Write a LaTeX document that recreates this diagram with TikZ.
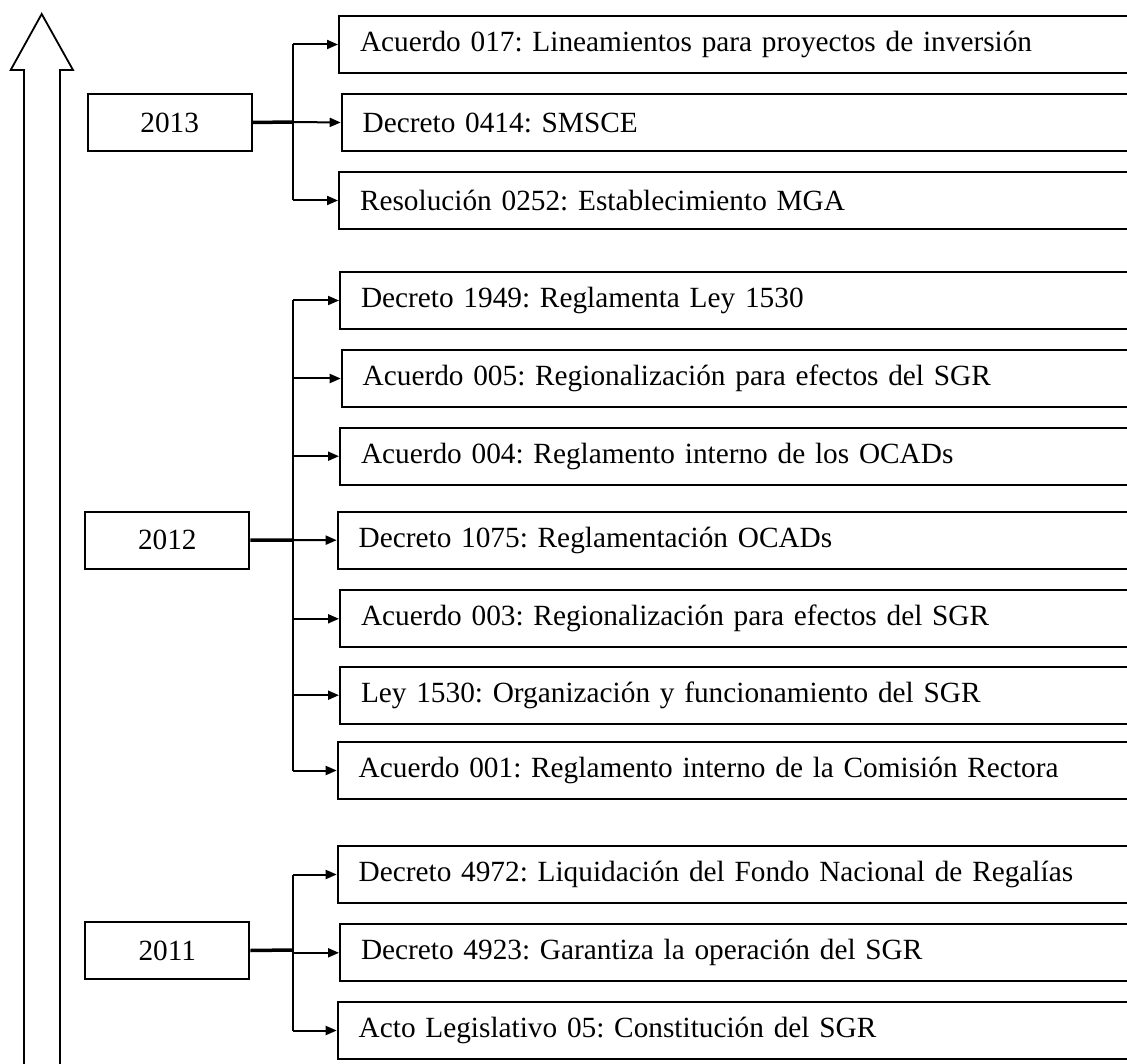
\documentclass[tikz,border=0pt]{standalone}
\usepackage{fontspec}
\setmainfont{Liberation Serif}
\usetikzlibrary{arrows.meta}
\frenchspacing
\begin{document}
\begin{tikzpicture}[x=1pt,y=-1pt,
  txt/.style={font=\fontsize{29.3}{34}\selectfont},
  yearbox/.style={txt, draw, line width=2pt, anchor=north west, minimum width=164pt, minimum height=57pt, inner sep=0pt},
  lawbox/.style={txt, draw, line width=2pt, anchor=north west, text width=800pt, minimum height=57pt, inner xsep=21pt, inner ysep=0pt, align=left},
  stem/.style={line width=3.5pt},
  trunk/.style={line width=2.2pt},
  arr/.style={line width=2pt, -{Triangle[length=11pt,width=9pt]}},
  bigarrow/.style={line width=1.8pt, line join=miter}]
\clip (0,0) rectangle (1127,1064);
% big timeline arrow
\draw[bigarrow] (24,1075) -- (24,70) -- (10.7,70) -- (41.7,14) -- (73,70) -- (60,70) -- (60,1075);

% ---- 2013 ----
\node[yearbox] (y13) at (86.7,93) {2013};
\node[lawbox] (a017) at (338,15) {Acuerdo 017: Lineamientos para proyectos de inversión};
\node[lawbox] (d0414) at (340.7,93) {Decreto 0414: SMSCE};
\node[lawbox] (r0252) at (338,171) {Resolución 0252: Establecimiento MGA};
\coordinate (j13) at (293,122);
\draw[stem] (y13.east) -- (j13);
\draw[trunk] (j13 |- a017.west) -- (j13 |- r0252.west);
\draw[arr] (j13 |- a017.west) -- (a017.west);
\draw[arr] (j13) -- (d0414.west);
\draw[arr] (j13 |- r0252.west) -- (r0252.west);

% ---- 2012 ----
\node[yearbox] (y12) at (84.3,510.7) {2012};
\node[lawbox] (d1949) at (339,271) {Decreto 1949: Reglamenta Ley 1530};
\node[lawbox] (a005) at (340.7,349) {Acuerdo 005: Regionalización para efectos del SGR};
\node[lawbox] (a004) at (339,426.7) {Acuerdo 004: Reglamento interno de los OCADs};
\node[lawbox] (d1075) at (336.7,510.7) {Decreto 1075: Reglamentación OCADs};
\node[lawbox] (a003) at (339,589.3) {Acuerdo 003: Regionalización para efectos del SGR};
\node[lawbox] (l1530) at (339,665.7) {Ley 1530: Organización y funcionamiento del SGR};
\node[lawbox] (a001) at (336.7,741) {Acuerdo 001: Reglamento interno de la Comisión Rectora};
\coordinate (j12) at (293,540);
\draw[stem] (y12.east) -- (j12);
\draw[trunk] (j12 |- d1949.west) -- (j12 |- a001.west);
\foreach \t in {d1949,a005,a004,a003,l1530,a001}
  \draw[arr] (j12 |- \t.west) -- (\t.west);
\draw[arr] (j12) -- (d1075.west);

% ---- 2011 ----
\node[yearbox] (y11) at (84.3,921) {2011};
\node[lawbox] (d4972) at (336.7,845) {Decreto 4972: Liquidación del Fondo Nacional de Regalías};
\node[lawbox] (d4923) at (339,923.3) {Decreto 4923: Garantiza la operación del SGR};
\node[lawbox] (al05) at (336.7,1001) {Acto Legislativo 05: Constitución del SGR};
\coordinate (j11) at (293,950);
\draw[stem] (y11.east) -- (j11);
\draw[trunk] (j11 |- d4972.west) -- (j11 |- al05.west);
\draw[arr] (j11 |- d4972.west) -- (d4972.west);
\draw[arr] (j11 |- d4923.west) -- (d4923.west);
\draw[arr] (j11 |- al05.west) -- (al05.west);
\end{tikzpicture}
\end{document}
